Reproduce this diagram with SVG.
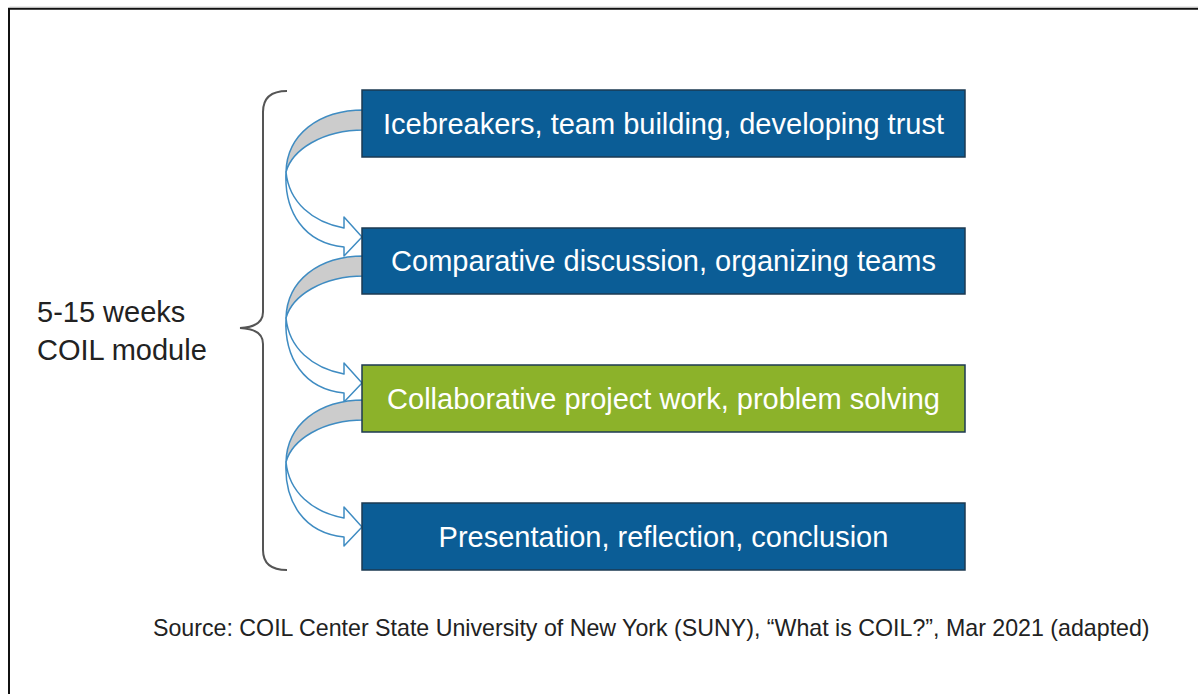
<svg xmlns="http://www.w3.org/2000/svg" width="1198" height="694" viewBox="0 0 1198 694">
<defs>
<style>
.box{fill:#0b5d96;stroke:#1d3a52;stroke-width:1.5}
.green{fill:#8cb22a;stroke:#1d3a52;stroke-width:1.5}
.lbl{font-family:"Liberation Sans",Arial,sans-serif;font-size:29px;fill:#ffffff;text-anchor:middle}
.side{font-family:"Liberation Sans",Arial,sans-serif;font-size:29px;fill:#222222}
.src{font-family:"Liberation Sans",Arial,sans-serif;font-size:23.2px;fill:#222222}
.back{fill:#cccccc;stroke:#3f8cc2;stroke-width:1.5;stroke-linejoin:round}
.front{fill:#ffffff;stroke:#3f8cc2;stroke-width:1.5;stroke-linejoin:round}
</style>
<g id="curvedArrow">
<path class="back" d="M 364 110 C 318 110 287 135 286 172 C 292 150 322 130 364 130 Z"/>
<path class="front" d="M 286 172 C 289 202 312 222 344 228 L 344 217 L 362 237 L 344 256 L 344 247 C 304 243 284 212 286 172 Z"/>
</g>
</defs>
<rect x="0" y="0" width="1198" height="694" fill="#ffffff"/>
<path d="M 9 694 V 8.7 H 1198" fill="none" stroke="#111111" stroke-width="2"/>
<path d="M 9.5 7.2 H 1198" fill="none" stroke="#bbbbbb" stroke-width="1"/>

<g id="brace">
<path d="M 287 91 Q 263 91 263 112 L 263 312 Q 263 327 240 328 Q 263 329 263 344 L 263 550 Q 263 570 287 570" fill="none" stroke="#555555" stroke-width="2"/>
</g>
<g id="duration-label">
<text class="side" x="37" y="322">5-15 weeks</text>
<text class="side" x="37" y="360">COIL module</text>
</g>

<g id="connectors">
<use href="#curvedArrow"/>
<use href="#curvedArrow" transform="translate(0,146)"/>
<use href="#curvedArrow" transform="translate(0,290)"/>
</g>

<g id="node1">
<rect class="box" x="362" y="90" width="603" height="67"/>
<text class="lbl" x="663.5" y="133.5">Icebreakers, team building, developing trust</text>
</g>
<g id="node2">
<rect class="box" x="362" y="228" width="603" height="66"/>
<text class="lbl" x="663.5" y="271">Comparative discussion, organizing teams</text>
</g>
<g id="node3">
<rect class="green" x="362" y="365" width="603" height="67"/>
<text class="lbl" x="663.5" y="408.5">Collaborative project work, problem solving</text>
</g>
<g id="node4">
<rect class="box" x="362" y="503" width="603" height="67"/>
<text class="lbl" x="663.5" y="546.5">Presentation, reflection, conclusion</text>
</g>

<g id="source">
<text class="src" x="153" y="636">Source: COIL Center State University of New York (SUNY), “What is COIL?”, Mar 2021 (adapted)</text>
</g>
</svg>
